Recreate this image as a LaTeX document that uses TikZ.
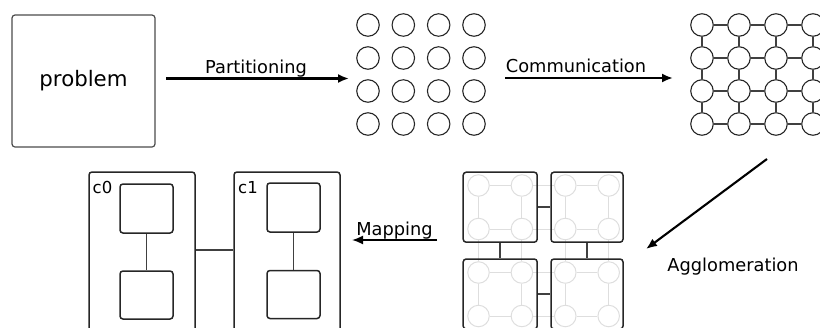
\documentclass[tikz,border=0pt]{standalone}
\usepackage{fontspec}
\setmainfont{DejaVu Sans}
\usetikzlibrary{arrows.meta}
\begin{document}
\begin{tikzpicture}[x=1pt,y=-1pt,
  box/.style={draw=black!85, line width=1.5pt, rounded corners=3pt, inner sep=0pt},
  circ/.style={draw=black!85, circle, line width=1.1pt, minimum size=22.5pt, inner sep=0pt},
  lcirc/.style={draw=black!13, circle, line width=1pt, minimum size=21.5pt, inner sep=0pt},
  link/.style={draw=black!75, line width=1.3pt},
  llink/.style={draw=black!13, line width=1pt},
  flow/.style={draw=black, line width=2.1pt, -{Latex[length=11pt,width=9pt]}},
  lbl/.style={font=\fontsize{17.8}{20}\selectfont, inner sep=0pt, anchor=base},
  clbl/.style={font=\fontsize{16.5}{18}\selectfont, inner sep=0pt, anchor=base west},
]
\useasboundingbox (0,0) rectangle (820,327);
\clip (0,0) rectangle (820,327);

% problem
\node[box, draw=black!70, line width=1.2pt, minimum width=143pt, minimum height=132pt,
      font=\fontsize{21.3}{24}\selectfont] (problem) at (83.5,81) {problem};

% partitioned grid
\foreach \i in {0,...,3} \foreach \j in {0,...,3}
  {\node[circ] (p-\i-\j) at ({368+35.33*\i},{25+33*\j}) {};}

% communication grid
\foreach \i in {0,...,3} \foreach \j in {0,...,3}
  {\node[circ] (q-\i-\j) at ({702+37*\i},{25+33*\j}) {};}
\foreach \i [evaluate=\i as \k using int(\i+1)] in {0,1,2} \foreach \j in {0,...,3}
  {\draw[link] (q-\i-\j) -- (q-\k-\j);}
\foreach \j [evaluate=\j as \k using int(\j+1)] in {0,1,2} \foreach \i in {0,...,3}
  {\draw[link] (q-\i-\j) -- (q-\i-\k);}

% agglomerated grid
\foreach \i in {0,...,3} \foreach \j in {0,...,3}
  {\node[lcirc] (a-\i-\j) at ({478.5+43.4*\i},{185.5+43.5*\j}) {};}
\foreach \i [evaluate=\i as \k using int(\i+1)] in {0,1,2} \foreach \j in {0,...,3}
  {\draw[llink] (a-\i-\j) -- (a-\k-\j);}
\foreach \j [evaluate=\j as \k using int(\j+1)] in {0,1,2} \foreach \i in {0,...,3}
  {\draw[llink] (a-\i-\j) -- (a-\i-\k);}
\node[box, minimum width=74pt, minimum height=70pt] (g1) at (500.2,207.2) {};
\node[box, minimum width=72pt, minimum height=70pt] (g2) at (587,207.2) {};
\node[box, minimum width=74pt, minimum height=70pt] (g3) at (500.2,294) {};
\node[box, minimum width=72pt, minimum height=70pt] (g4) at (587,294) {};
\draw[link, line width=1.5pt] (g1) -- (g2);
\draw[link, line width=1.5pt] (g3) -- (g4);
\draw[link, line width=1.5pt] (g1) -- (g3);
\draw[link, line width=1.5pt] (g2) -- (g4);

% mapped cores
\node[box, minimum width=106pt, minimum height=180pt] (c0) at (142,262) {};
\node[box, minimum width=106pt, minimum height=180pt] (c1) at (287,262) {};
\node[clbl] (c0l) at (92.5,193) {c0};
\node[clbl] (c1l) at (238,193) {c1};
\node[box, minimum width=53pt, minimum height=49pt] (c0a) at (146.5,208.5) {};
\node[box, minimum width=53pt, minimum height=48pt] (c0b) at (146.5,295) {};
\node[box, minimum width=53pt, minimum height=49pt] (c1a) at (293.5,207.5) {};
\node[box, minimum width=53pt, minimum height=48pt] (c1b) at (293.5,294.5) {};
\draw[link, line width=1.5pt] (c0a) -- (c0b);
\draw[link, line width=1.5pt] (c1a) -- (c1b);
\draw[link, line width=1.5pt] ([yshift=12pt]c0.east) -- ([yshift=12pt]c1.west);

% arrows
\coordinate (pa) at (166,78.5);
\coordinate (pb) at (349,78.5);
\coordinate (ca) at (505,78);
\coordinate (cb) at (673,78);
\coordinate (aa) at (767,159);
\coordinate (ab) at (646,249);
\coordinate (ma) at (437,240);
\coordinate (mb) at (352,240);
\draw[flow] (pa) -- (pb);
\draw[flow] (ca) -- (cb);
\draw[flow] (aa) -- (ab);
\draw[flow, line width=1.7pt] (ma) -- (mb);

\node[lbl] (lpart) at (256,73) {Partitioning};
\node[lbl] (lcomm) at (576,72) {Communication};
\node[lbl] (lagg) at (733,271) {Agglomeration};
\node[lbl] (lmap) at (394.5,235) {Mapping};
\end{tikzpicture}
\end{document}
